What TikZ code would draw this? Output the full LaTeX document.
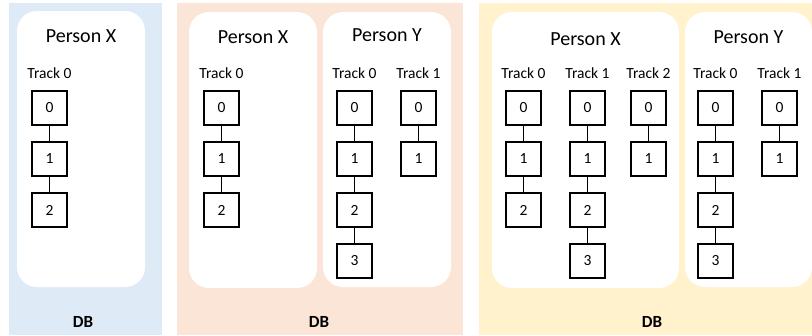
\documentclass[tikz,border=0pt]{standalone}
\usepackage{fontspec}
\setmainfont{Carlito}
\definecolor{dbblue}{HTML}{DEEBF7}
\definecolor{dbpeach}{HTML}{FBE5D6}
\definecolor{dbyellow}{HTML}{FFF2CC}
\newcommand{\mktrack}[4]{%
  \node[tracklbl] (#1l) at (#2,73) {#4};
  \foreach \i in {0,...,#3} {\node[rec] (#1\i) at (#2,{108+51*\i}) {\i};}
  \foreach \i [remember=\i as \j (initially 0)] in {1,...,#3} {\draw[link] (#1\j) -- (#1\i);}
}
\begin{document}
\begin{tikzpicture}[x=1pt,y=-1pt,
  person/.style={fill=white,rounded corners=20pt},
  rec/.style={draw,line width=1.4pt,minimum width=35pt,minimum height=34pt,inner sep=0pt,font=\fontsize{15.5}{18}\selectfont},
  link/.style={line width=1.4pt},
  tracklbl/.style={font=\fontsize{15.5}{18}\selectfont},
  personlbl/.style={font=\fontsize{20}{24}\selectfont},
  dblbl/.style={font=\bfseries\fontsize{17}{20}\selectfont}]
\useasboundingbox (0,0) rectangle (812,335);
% panels
\fill[dbblue] (9,3) rectangle (162,335);
\fill[dbpeach] (177,3) rectangle (463,335);
\fill[dbyellow] (479,3) rectangle (812,335);
% person areas
\fill[person] (17,11) rectangle (145,287);
\fill[person] (189,12) rectangle (317,288);
\fill[person] (323,12) rectangle (451,287);
\fill[person] (492,12) rectangle (679,288);
\fill[person] (685,12) rectangle (812,287);
% labels
\node[personlbl] (p1x) at (81,36) {Person X};
\node[personlbl] (p2x) at (253,37) {Person X};
\node[personlbl] (p2y) at (387,35) {Person Y};
\node[personlbl] (p3x) at (585.5,39) {Person X};
\node[personlbl] (p3y) at (748.5,37) {Person Y};
\node[dblbl] (db1) at (83,322) {DB};
\node[dblbl] (db2) at (319,322) {DB};
\node[dblbl] (db3) at (652,322) {DB};
% tracks
\mktrack{a}{49.5}{2}{Track 0}
\mktrack{b}{221.5}{2}{Track 0}
\mktrack{c}{354.5}{3}{Track 0}
\mktrack{d}{418.5}{1}{Track 1}
\mktrack{e}{523.5}{2}{Track 0}
\mktrack{f}{587.5}{3}{Track 1}
\mktrack{g}{648.5}{1}{Track 2}
\mktrack{h}{715.5}{3}{Track 0}
\mktrack{k}{779.5}{1}{Track 1}
\end{tikzpicture}
\end{document}
